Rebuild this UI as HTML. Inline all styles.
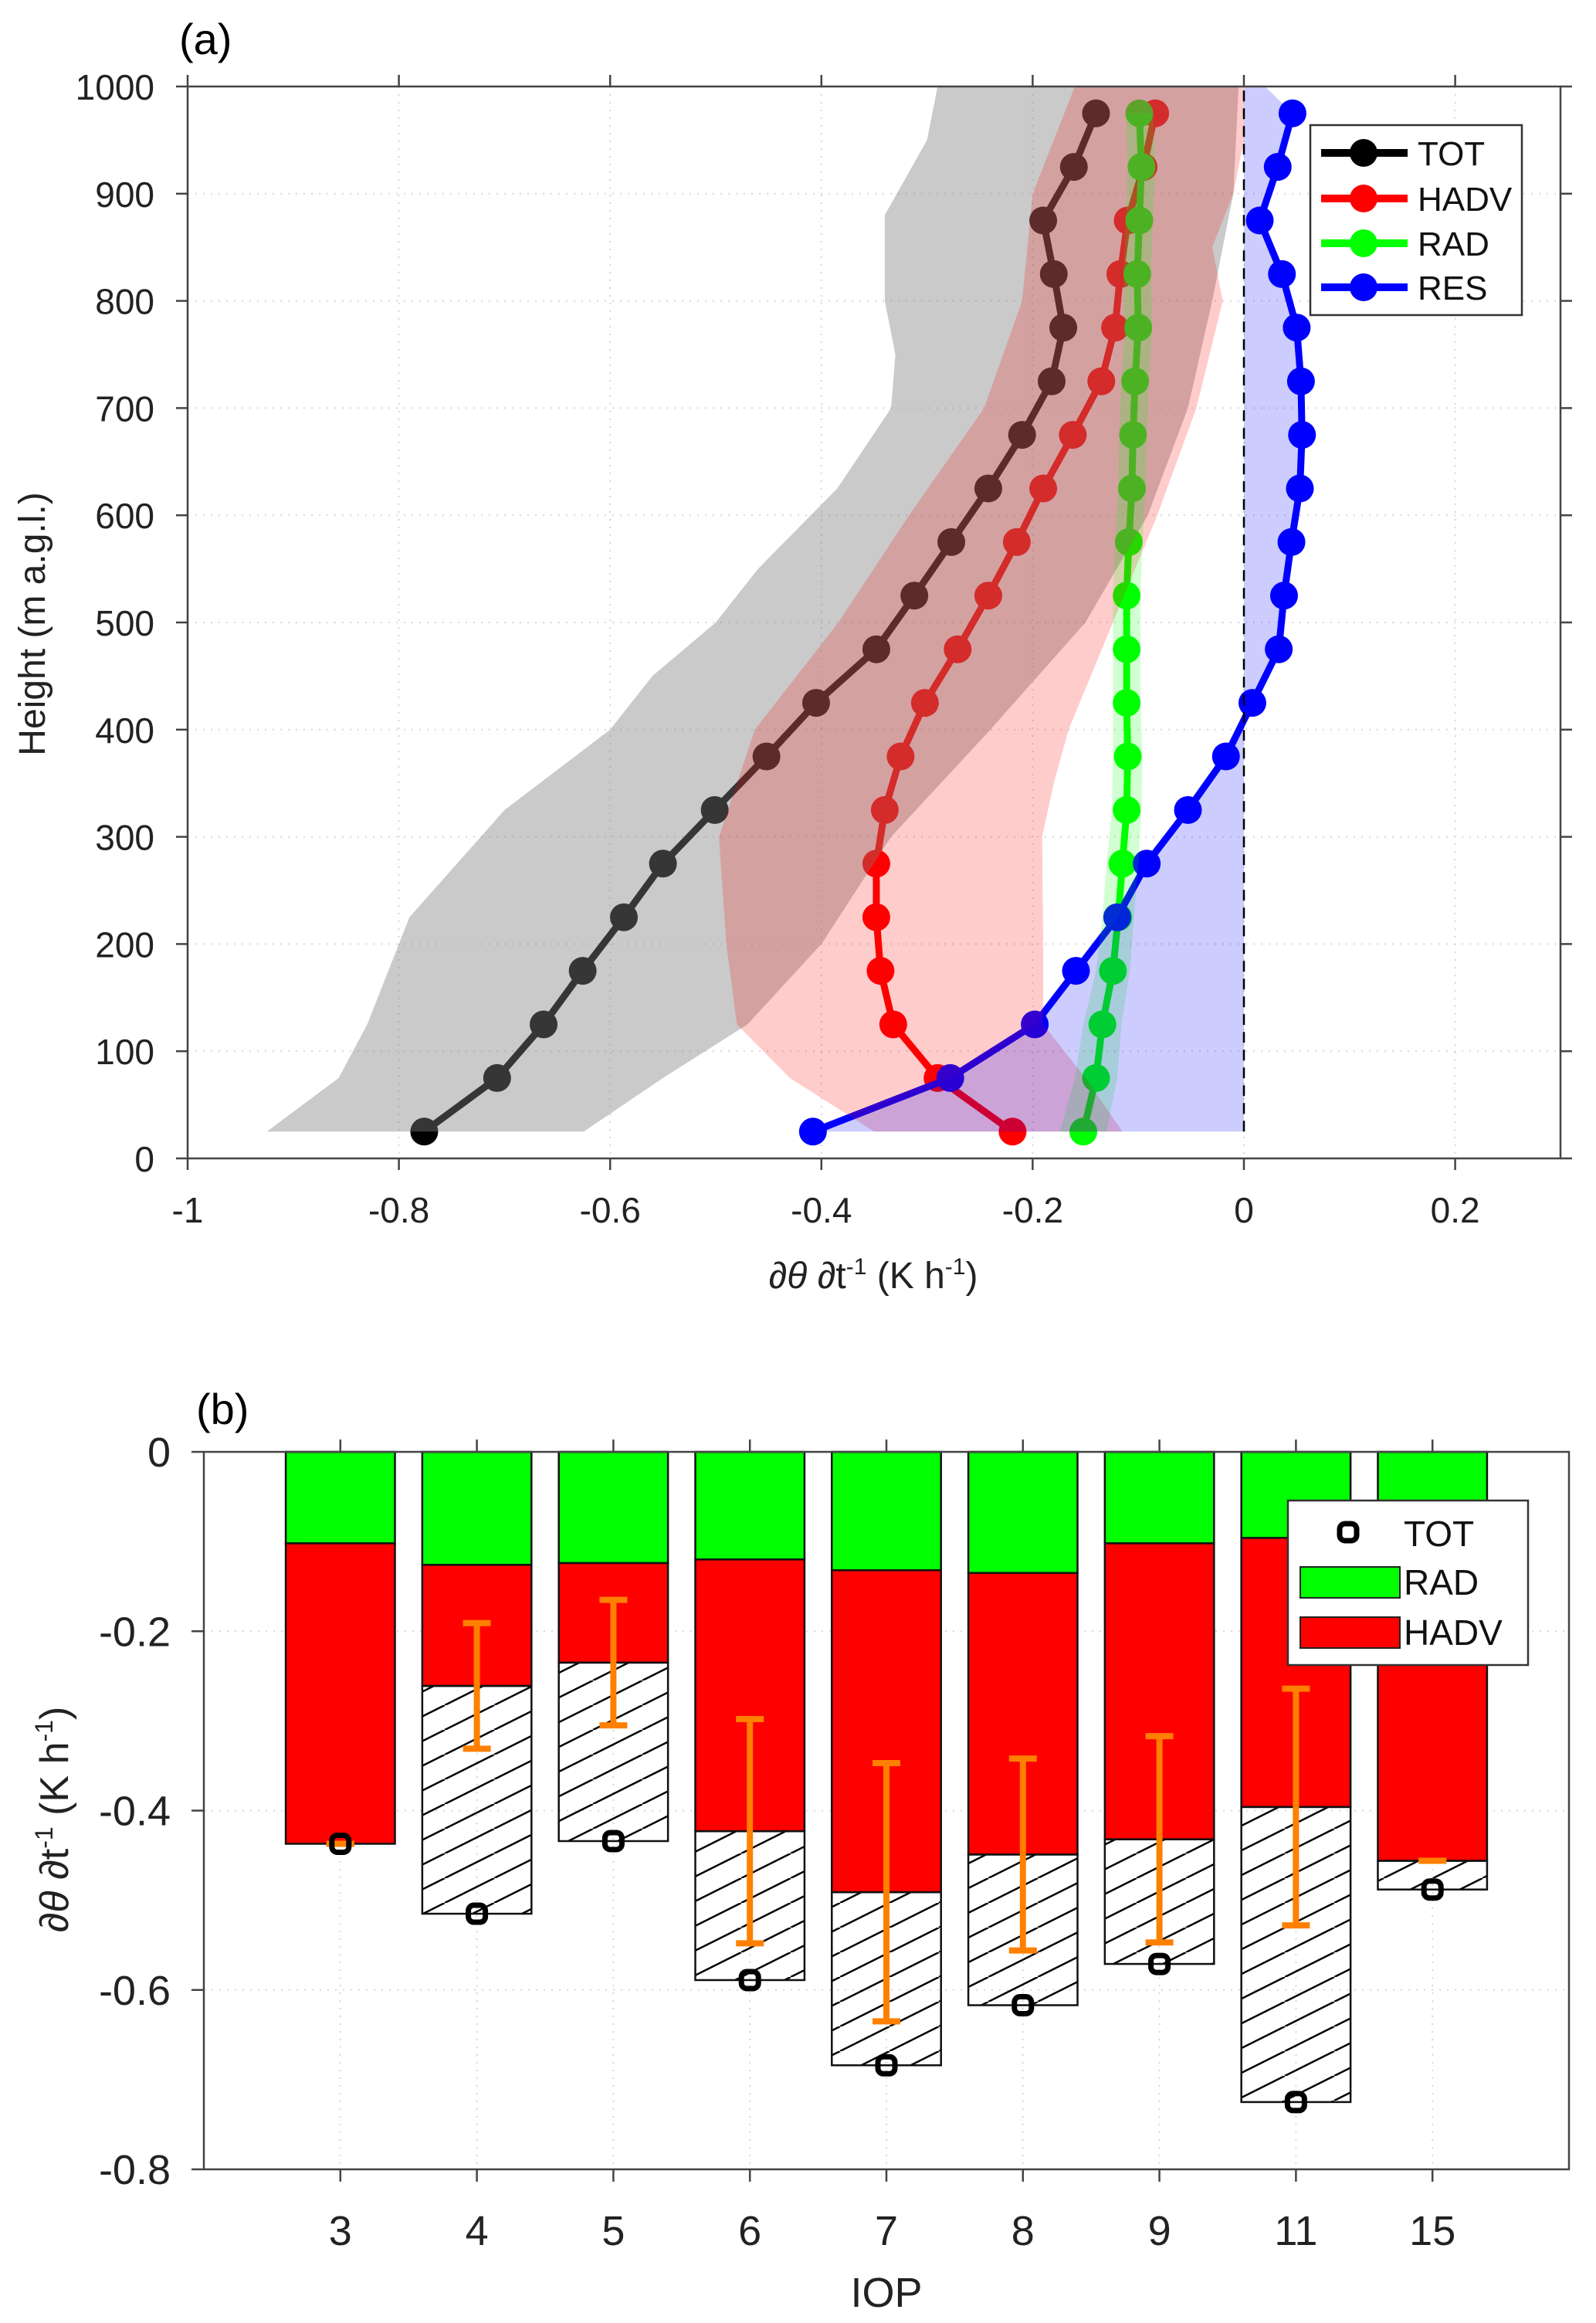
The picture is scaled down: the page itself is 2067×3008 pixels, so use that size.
<!DOCTYPE html>
<html><head><meta charset="utf-8"><style>
html,body{margin:0;padding:0;background:#fff;}
svg{display:block;font-family:"Liberation Sans",sans-serif;}
</style></head><body>
<svg id="fig" width="2067" height="3008" viewBox="0 0 2067 3008">
<defs>
<pattern id="hatch" patternUnits="userSpaceOnUse" width="64" height="32">
<path d="M-64,32 L0,0 M0,32 L64,0 M64,32 L128,0" stroke="#000" stroke-width="2.5"/>
</pattern>
<clipPath id="clipA"><rect x="243" y="112" width="1778" height="1388"/></clipPath>
</defs>
<g id="pa"></g>
<g id="pb"></g>
</svg>
<script>
// ---------- Panel (a) data ----------
const heights = [25,75,125,175,225,275,325,375,425,475,525,575,625,675,725,775,825,875,925,975];
const totVals = [-0.776,-0.707,-0.663,-0.626,-0.587,-0.55,-0.501,-0.452,-0.405,-0.348,-0.312,-0.277,-0.242,-0.21,-0.182,-0.171,-0.18,-0.19,-0.161,-0.14];
const hadvVals = [-0.219,-0.29,-0.332,-0.344,-0.348,-0.348,-0.34,-0.325,-0.302,-0.271,-0.242,-0.215,-0.19,-0.162,-0.135,-0.122,-0.117,-0.11,-0.095,-0.084];
const radVals = [-0.152,-0.14,-0.134,-0.124,-0.119,-0.115,-0.111,-0.11,-0.111,-0.111,-0.111,-0.109,-0.106,-0.105,-0.103,-0.1,-0.101,-0.099,-0.097,-0.099];
const resVals = [-0.408,-0.278,-0.198,-0.159,-0.12,-0.092,-0.053,-0.017,0.008,0.033,0.038,0.045,0.053,0.055,0.054,0.05,0.036,0.015,0.032,0.046];
const grayBandH = [25,75,125,225,275,325,400,450,500,550,625,700,750,800,880,950,1000];
const grayLeft = [-0.925,-0.857,-0.83,-0.79,-0.745,-0.7,-0.6,-0.56,-0.5,-0.46,-0.385,-0.334,-0.33,-0.34,-0.34,-0.3,-0.29];
const grayRightH = [25,75,125,200,300,400,500,600,700,800,900,1000];
const grayRight = [-0.625,-0.55,-0.47,-0.4,-0.334,-0.24,-0.15,-0.091,-0.053,-0.03,-0.01,-0.005];
const redBandH = [25,75,125,200,300,400,500,600,700,800,900,1000];
const redLeft = [-0.35,-0.43,-0.48,-0.49,-0.497,-0.463,-0.384,-0.317,-0.246,-0.21,-0.2,-0.16];
const redRightH = [25,75,125,200,300,350,400,500,600,700,800,850,900,950,1000];
const redRight = [-0.115,-0.15,-0.19,-0.19,-0.191,-0.18,-0.166,-0.124,-0.082,-0.045,-0.02,-0.03,-0.01,0,0];
const radBandHalf = [0.022,0.02,0.018,0.016,0.015,0.015,0.014,0.014,0.013,0.013,0.013,0.013,0.013,0.013,0.013,0.013,0.013,0.013,0.013,0.013];
const xTicksA = [-1,-0.8,-0.6,-0.4,-0.2,0,0.2];
const xTickLabelsA = ["-1","-0.8","-0.6","-0.4","-0.2","0","0.2"];
const yTicksA = [0,100,200,300,400,500,600,700,800,900,1000];

// ---------- Panel (b) data ----------
const iops = ["3","4","5","6","7","8","9","11","15"];
const radB = [-0.102,-0.126,-0.124,-0.12,-0.132,-0.135,-0.102,-0.096,-0.1];
const hadvB = [-0.335,-0.135,-0.111,-0.303,-0.359,-0.314,-0.33,-0.3,-0.356];
const totB = [-0.437,-0.515,-0.434,-0.589,-0.684,-0.617,-0.571,-0.725,-0.488];
const errB = [0.0,0.07,0.07,0.125,0.144,0.107,0.115,0.132,0.0];
const yTicksB = [0,-0.2,-0.4,-0.6,-0.8];
const yTickLabelsB = ["0","-0.2","-0.4","-0.6","-0.8"];

const NS="http://www.w3.org/2000/svg";
function mk(parent,tag,attrs,text){const e=document.createElementNS(NS,tag);for(const k in attrs)e.setAttribute(k,attrs[k]);if(text!==undefined)e.textContent=text;parent.appendChild(e);return e;}

// ---------- Panel (a) ----------
const pa=document.getElementById('pa');
const AL=243,AR=2021,AT=112,AB=1500;
const xA=v=>AL+(v+1)*(1611-AL);
const yA=h=>AB-h*(AB-AT)/1000;
xTicksA.forEach(v=>{const l=mk(pa,'line',{x1:xA(v),x2:xA(v),y1:AT,y2:AB,stroke:'#d8d8d8','stroke-width':2,'stroke-dasharray':'2 8'});

});
yTicksA.forEach(h=>{const l=mk(pa,'line',{x1:AL,x2:AR,y1:yA(h),y2:yA(h),stroke:'#d8d8d8','stroke-width':2,'stroke-dasharray':'2 8'});

});
function series(vals,color,name){
 const g=mk(pa,'g',{});
 
 
 const pts=vals.map((v,i)=>xA(v)+','+yA(heights[i])).join(' ');
 mk(g,'polyline',{points:pts,fill:'none',stroke:color,'stroke-width':9,'stroke-linejoin':'round'});
 vals.forEach((v,i)=>{const c=mk(g,'circle',{cx:xA(v),cy:yA(heights[i]),r:18,fill:color});
 
 });
}
series(totVals,'#000','tot');
series(hadvVals,'#ff0000','hadv');
series(radVals,'#00ff00','rad');
series(resVals,'#0000ff','res');
function band(lh,lv,rh,rv,color,op,name){
 const p=[];lh.forEach((h,i)=>p.push(xA(lv[i])+','+yA(h)));
 for(let i=rh.length-1;i>=0;i--)p.push(xA(rv[i])+','+yA(rh[i]));
 const e=mk(pa,'polygon',{points:p.join(' '),fill:color,'fill-opacity':op,'clip-path':'url(#clipA)'});
 
 
}
band(grayBandH,grayLeft,grayRightH,grayRight,'#808080',0.42,'tot-spread-band');
band(redBandH,redLeft,redRightH,redRight,'#ff0000',0.2,'hadv-spread-band');
band(heights,radVals.map((v,i)=>v-radBandHalf[i]),heights,radVals.map((v,i)=>v+radBandHalf[i]),'#00ff00',0.18,'rad-spread-band');
{const hh=heights.concat([1000]);const rv=resVals.concat([0.02]);
 band(hh,rv,[25,1000],[0,0],'#0000ff',0.2,'res-spread-band');}
{const l=mk(pa,'line',{x1:xA(0),x2:xA(0),y1:yA(25),y2:AT,stroke:'#000','stroke-width':2.5,'stroke-dasharray':'14 9'});

}
{const r=mk(pa,'rect',{x:AL,y:AT,width:AR-AL,height:AB-AT,fill:'none',stroke:'#444','stroke-width':2.5});

}
xTicksA.forEach((v,i)=>{
 mk(pa,'line',{x1:xA(v),x2:xA(v),y1:AB,y2:AB+15,stroke:'#444','stroke-width':2.5});
 mk(pa,'line',{x1:xA(v),x2:xA(v),y1:AT,y2:AT-15,stroke:'#444','stroke-width':2.5});
 const t=mk(pa,'text',{x:xA(v),y:1583,'font-size':46,'text-anchor':'middle',fill:'#222'},xTickLabelsA[i]);
 
 
});
yTicksA.forEach(h=>{
 mk(pa,'line',{x1:AL,x2:AL-15,y1:yA(h),y2:yA(h),stroke:'#444','stroke-width':2.5});
 mk(pa,'line',{x1:AR,x2:AR+15,y1:yA(h),y2:yA(h),stroke:'#444','stroke-width':2.5});
 const t=mk(pa,'text',{x:200,y:yA(h)+17,'font-size':46,'text-anchor':'end',fill:'#222'},String(h));
 
 
});
</script>
<script>
(function(){
const pa=document.getElementById('pa');
const NS="http://www.w3.org/2000/svg";
function mk(parent,tag,attrs,text){const e=document.createElementNS(NS,tag);for(const k in attrs)e.setAttribute(k,attrs[k]);if(text!==undefined)e.textContent=text;parent.appendChild(e);return e;}
let t=mk(pa,'text',{x:232,y:70,'font-size':56,fill:'#000'},'(a)');


t=mk(pa,'text',{x:1131,y:1668,'font-size':48,'text-anchor':'middle',fill:'#222'});
t.innerHTML='<tspan font-style="italic">∂θ ∂</tspan>t<tspan dy="-18" font-size="30">-1</tspan><tspan dy="18"> (K h</tspan><tspan dy="-18" font-size="30">-1</tspan><tspan dy="18">)</tspan>';


t=mk(pa,'text',{x:0,y:0,'font-size':48,'text-anchor':'middle',fill:'#222',transform:'translate(58,808) rotate(-90)'},'Height (m a.g.l.)');


const lg=mk(pa,'g',{});


mk(lg,'rect',{x:1697,y:162,width:274,height:246,fill:'#fff',stroke:'#333','stroke-width':2.5});
[['TOT','#000',198],['HADV','#ff0000',257],['RAD','#00ff00',315],['RES','#0000ff',372]].forEach(d=>{
 const g=mk(lg,'g',{});
 
 
 mk(g,'line',{x1:1711,x2:1823,y1:d[2],y2:d[2],stroke:d[1],'stroke-width':10});
 mk(g,'circle',{cx:1766,cy:d[2],r:18,fill:d[1]});
 mk(g,'text',{x:1836,y:d[2]+16,'font-size':44,fill:'#111'},d[0]);
});
})();
</script>
<script>
(function(){
const pb=document.getElementById('pb');
const NS="http://www.w3.org/2000/svg";
function mk(parent,tag,attrs,text){const e=document.createElementNS(NS,tag);for(const k in attrs)e.setAttribute(k,attrs[k]);if(text!==undefined)e.textContent=text;parent.appendChild(e);return e;}
const BL=264,BR=2032,BT=1880,BB=2809;
const xB=i=>BL+(i+1)*(BR-BL)/10;
const yB=v=>BT-v*(BB-BT)/0.8;
const bw=0.8*(BR-BL)/10;
yTicksB.forEach(v=>{const l=mk(pb,'line',{x1:BL,x2:BR,y1:yB(v),y2:yB(v),stroke:'#d8d8d8','stroke-width':2,'stroke-dasharray':'2 8'});

});
iops.forEach((c,i)=>{const l=mk(pb,'line',{x1:xB(i),x2:xB(i),y1:BT,y2:BB,stroke:'#d8d8d8','stroke-width':2,'stroke-dasharray':'2 8'});

});
iops.forEach((c,i)=>{
 const x0=xB(i)-bw/2;
 const rb=radB[i], hb=radB[i]+hadvB[i], tb=totB[i];
 let r=mk(pb,'rect',{x:x0,y:yB(0),width:bw,height:yB(rb)-yB(0),fill:'#00ff00',stroke:'#111','stroke-width':2.5});
 
 
 r=mk(pb,'rect',{x:x0,y:yB(rb),width:bw,height:yB(hb)-yB(rb),fill:'#ff0000',stroke:'#111','stroke-width':2.5});
 
 
 if(tb<hb-0.002){
  r=mk(pb,'rect',{x:x0,y:yB(hb),width:bw,height:yB(tb)-yB(hb),fill:'url(#hatch)',stroke:'#111','stroke-width':2.5});
  
  
 }
 const g=mk(pb,'g',{stroke:'#ff8000','stroke-width':8});
 
 
 const yt=yB(hb+errB[i]), yb2=yB(hb-errB[i]);
 mk(g,'line',{x1:xB(i),x2:xB(i),y1:yt,y2:yb2});
 mk(g,'line',{x1:xB(i)-18,x2:xB(i)+18,y1:yt,y2:yt});
 mk(g,'line',{x1:xB(i)-18,x2:xB(i)+18,y1:yb2,y2:yb2});
 const m=mk(pb,'rect',{x:xB(i)-11,y:yB(tb)-11,width:22,height:22,rx:7,fill:'none',stroke:'#000','stroke-width':7});
 
 
});
{const r=mk(pb,'rect',{x:BL,y:BT,width:BR-BL,height:BB-BT,fill:'none',stroke:'#444','stroke-width':2.5});

}
iops.forEach((c,i)=>{
 mk(pb,'line',{x1:xB(i),x2:xB(i),y1:BB,y2:BB+16,stroke:'#444','stroke-width':2.5});
 mk(pb,'line',{x1:xB(i),x2:xB(i),y1:BT,y2:BT-16,stroke:'#444','stroke-width':2.5});
 const t=mk(pb,'text',{x:xB(i),y:2907,'font-size':54,'text-anchor':'middle',fill:'#222'},c);
 
 
});
yTicksB.forEach((v,i)=>{
 mk(pb,'line',{x1:BL,x2:BL-16,y1:yB(v),y2:yB(v),stroke:'#444','stroke-width':2.5});
 const t=mk(pb,'text',{x:221,y:yB(v)+19,'font-size':54,'text-anchor':'end',fill:'#222'},yTickLabelsB[i]);
 
 
});
let t=mk(pb,'text',{x:254,y:1844,'font-size':56,fill:'#000'},'(b)');


t=mk(pb,'text',{x:1148,y:2987,'font-size':54,'text-anchor':'middle',fill:'#222'},'IOP');


t=mk(pb,'text',{x:0,y:0,'font-size':52,'text-anchor':'middle',fill:'#222',transform:'translate(88,2356) rotate(-90)'});
t.innerHTML='<tspan font-style="italic">∂θ ∂</tspan>t<tspan dy="-20" font-size="32">-1</tspan><tspan dy="20"> (K h</tspan><tspan dy="-20" font-size="32">-1</tspan><tspan dy="20">)</tspan>';


const lg=mk(pb,'g',{});


mk(lg,'rect',{x:1668,y:1943,width:311,height:213,fill:'#fff',stroke:'#333','stroke-width':2.5});
{const g=mk(lg,'g',{});


mk(g,'rect',{x:1735,y:1973,width:22,height:22,rx:7,fill:'none',stroke:'#000','stroke-width':7});
mk(g,'text',{x:1818,y:2002,'font-size':46,fill:'#111'},'TOT');}
[['RAD','#00ff00',2049],['HADV','#ff0000',2114]].forEach(d=>{
 const g=mk(lg,'g',{});
 
 
 mk(g,'rect',{x:1684,y:d[2]-20,width:129,height:40,fill:d[1],stroke:'#222','stroke-width':2});
 mk(g,'text',{x:1818,y:d[2]+16,'font-size':46,fill:'#111'},d[0]);
});
})();
</script>
</body></html>
